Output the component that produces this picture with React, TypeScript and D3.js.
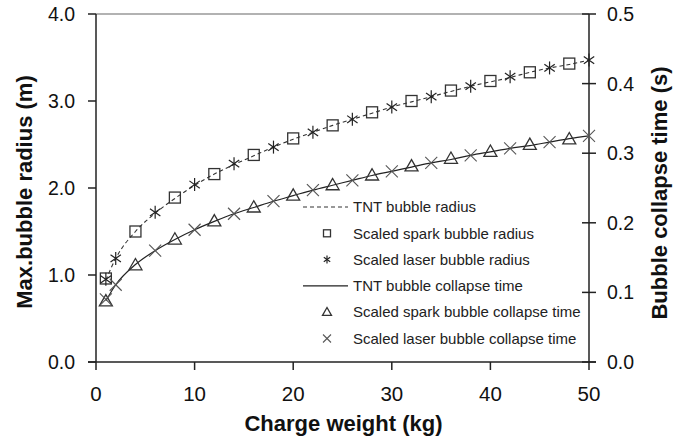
import React from "react";
import * as d3 from "d3";

const tntW = [1, 2, 4, 6, 8, 10, 12, 14, 16, 18, 20, 22, 24, 26, 28, 30, 32, 34, 36, 38, 40, 42, 44, 46, 48, 50];
const tntRadius = [0.94, 1.19, 1.5, 1.71, 1.88, 2.03, 2.16, 2.27, 2.37, 2.47, 2.56, 2.64, 2.72, 2.79, 2.86, 2.93, 2.99, 3.05, 3.11, 3.17, 3.22, 3.27, 3.33, 3.38, 3.42, 3.47];
const tntTime = [0.088, 0.111, 0.14, 0.16, 0.176, 0.19, 0.202, 0.213, 0.222, 0.231, 0.239, 0.247, 0.254, 0.261, 0.268, 0.274, 0.28, 0.286, 0.291, 0.297, 0.302, 0.307, 0.311, 0.316, 0.321, 0.325];

const sparkW = [1, 4, 8, 12, 16, 20, 24, 28, 32, 36, 40, 44, 48];
const sparkRadius = [0.96, 1.5, 1.89, 2.16, 2.38, 2.57, 2.72, 2.87, 3.0, 3.12, 3.23, 3.33, 3.43];
const sparkTime = [0.087, 0.139, 0.176, 0.202, 0.222, 0.239, 0.254, 0.268, 0.281, 0.292, 0.302, 0.312, 0.32];

const laserW = [1, 2, 6, 10, 14, 18, 22, 26, 30, 34, 38, 42, 46, 50];
const laserRadius = [0.95, 1.19, 1.72, 2.04, 2.28, 2.47, 2.64, 2.79, 2.93, 3.05, 3.17, 3.28, 3.38, 3.47];
const laserTime = [0.09, 0.111, 0.16, 0.19, 0.213, 0.231, 0.247, 0.261, 0.274, 0.286, 0.297, 0.307, 0.316, 0.325];

const xTicks = [0, 10, 20, 30, 40, 50];
const leftTicks = [0, 1, 2, 3, 4];
const rightTicks = [0, 0.1, 0.2, 0.3, 0.4, 0.5];

const legendLabels = [
  "TNT bubble radius",
  "Scaled spark bubble radius",
  "Scaled laser bubble radius",
  "TNT bubble collapse time",
  "Scaled spark bubble collapse time",
  "Scaled laser bubble collapse time",
];

const FONT = "'Liberation Sans', Arial, Helvetica, sans-serif";

const L = 96, R = 589, T = 14, B = 362;

const x = d3.scaleLinear().domain([0, 50]).range([L, R]);
const yL = d3.scaleLinear().domain([0, 4]).range([B, T]);
const yR = d3.scaleLinear().domain([0, 0.5]).range([B, T]);

function Square({ cx, cy, s }: { cx: number; cy: number; s: number }) {
  return <rect x={cx - s / 2} y={cy - s / 2} width={s} height={s} fill="none" stroke="#333" strokeWidth={1.3} />;
}
function Star({ cx, cy, r }: { cx: number; cy: number; r: number }) {
  const d = r * 0.8;
  return (
    <g stroke="#222" strokeWidth={1.2}>
      <line x1={cx} y1={cy - r} x2={cx} y2={cy + r} />
      <line x1={cx - d} y1={cy - d * 0.7} x2={cx + d} y2={cy + d * 0.7} />
      <line x1={cx - d} y1={cy + d * 0.7} x2={cx + d} y2={cy - d * 0.7} />
    </g>
  );
}
function Tri({ cx, cy, s }: { cx: number; cy: number; s: number }) {
  const h = s * 0.87;
  const p = `${cx},${cy - h * 0.6} ${cx - s / 2},${cy + h * 0.4} ${cx + s / 2},${cy + h * 0.4}`;
  return <polygon points={p} fill="none" stroke="#333" strokeWidth={1.3} />;
}
function Cross({ cx, cy, r }: { cx: number; cy: number; r: number }) {
  return (
    <g stroke="#555" strokeWidth={1.1}>
      <line x1={cx - r} y1={cy - r} x2={cx + r} y2={cy + r} />
      <line x1={cx - r} y1={cy + r} x2={cx + r} y2={cy - r} />
    </g>
  );
}

export default function App() {
  const radiusLine = d3
    .line<number>()
    .x((_, i) => x(tntW[i]))
    .y((d) => yL(d))
    .curve(d3.curveMonotoneX)(tntRadius) as string;
  const timeLine = d3
    .line<number>()
    .x((_, i) => x(tntW[i]))
    .y((d) => yR(d))
    .curve(d3.curveMonotoneX)(tntTime) as string;

  const legX0 = 303, legX1 = 348, legM = 327, legT = 353, legY0 = 207, legDy = 26.3;

  return (
    <svg
      width={687}
      height={442}
      style={{ position: "absolute", left: 0, top: 0, background: "#fff" }}
      fontFamily={FONT}
    >
      <rect width={687} height={442} fill="#fff" />
      <line x1={L} x2={R} y1={T} y2={T} stroke="#999" strokeWidth={1.5} />
      <line x1={L} x2={L} y1={T} y2={B} stroke="#222" strokeWidth={1.5} />
      {leftTicks.map((t) => (
        <g key={"l" + t}>
          <line x1={L - 8} x2={L} y1={yL(t)} y2={yL(t)} stroke="#222" strokeWidth={1.5} />
          <text x={75} y={yL(t)} dy="0.36em" textAnchor="end" fontSize={19.5} fill="#111">
            {t.toFixed(1)}
          </text>
        </g>
      ))}
      <line x1={R} x2={R} y1={T} y2={B} stroke="#222" strokeWidth={1.5} />
      {rightTicks.map((t) => (
        <g key={"r" + t}>
          <line x1={R - 7} x2={R + 7} y1={yR(t)} y2={yR(t)} stroke="#222" strokeWidth={1.5} />
          <text x={607} y={yR(t)} dy="0.36em" textAnchor="start" fontSize={19.5} fill="#111">
            {t.toFixed(1)}
          </text>
        </g>
      ))}
      <line x1={L - 8} x2={R + 7} y1={B} y2={B} stroke="#222" strokeWidth={1.5} />
      {xTicks.map((t) => (
        <g key={"x" + t}>
          <line x1={x(t)} x2={x(t)} y1={B} y2={B + 8} stroke="#222" strokeWidth={1.5} />
          <text x={x(t)} y={401} textAnchor="middle" fontSize={20.5} fill="#111">
            {t}
          </text>
        </g>
      ))}
      <text x={(L + R) / 2 + 1} y={431} textAnchor="middle" fontSize={22} fontWeight="bold" fill="#111">
        Charge weight (kg)
      </text>
      <text
        transform={`translate(32,${(T + B) / 2 + 4}) rotate(-90)`}
        textAnchor="middle"
        fontSize={22}
        fontWeight="bold"
        fill="#111"
      >
        Max.bubble radius (m)
      </text>
      <text
        transform={`translate(667,${(T + B) / 2 + 5}) rotate(-90)`}
        textAnchor="middle"
        fontSize={22}
        fontWeight="bold"
        fill="#111"
      >
        Bubble collapse time (s)
      </text>

      <path d={radiusLine} fill="none" stroke="#333" strokeWidth={1.1} strokeDasharray="4,3" />
      <path d={timeLine} fill="none" stroke="#222" strokeWidth={1.2} />

      {sparkW.map((w, i) => (
        <Square key={"sq" + i} cx={x(w)} cy={yL(sparkRadius[i])} s={11} />
      ))}
      {laserW.map((w, i) => (
        <Star key={"st" + i} cx={x(w)} cy={yL(laserRadius[i])} r={6.5} />
      ))}
      {sparkW.map((w, i) => (
        <Tri key={"tr" + i} cx={x(w)} cy={yR(sparkTime[i])} s={13} />
      ))}
      {laserW.map((w, i) => (
        <Cross key={"cr" + i} cx={x(w)} cy={yR(laserTime[i])} r={6} />
      ))}

      <g fontSize={15} fill="#222">
        <line x1={legX0} x2={legX1} y1={legY0} y2={legY0} stroke="#333" strokeWidth={1.1} strokeDasharray="4,3" />
        <Square cx={legM} cy={legY0 + legDy} s={7} />
        <Star cx={legM} cy={legY0 + 2 * legDy} r={4} />
        <line x1={legX0} x2={legX1} y1={legY0 + 3 * legDy} y2={legY0 + 3 * legDy} stroke="#222" strokeWidth={1.2} />
        <Tri cx={legM} cy={legY0 + 4 * legDy} s={9} />
        <Cross cx={legM} cy={legY0 + 5 * legDy} r={4} />
        {legendLabels.map((lab, i) => (
          <text key={lab} x={legT} y={legY0 + i * legDy} dy="0.35em" fill="#222">
            {lab}
          </text>
        ))}
      </g>
    </svg>
  );
}
